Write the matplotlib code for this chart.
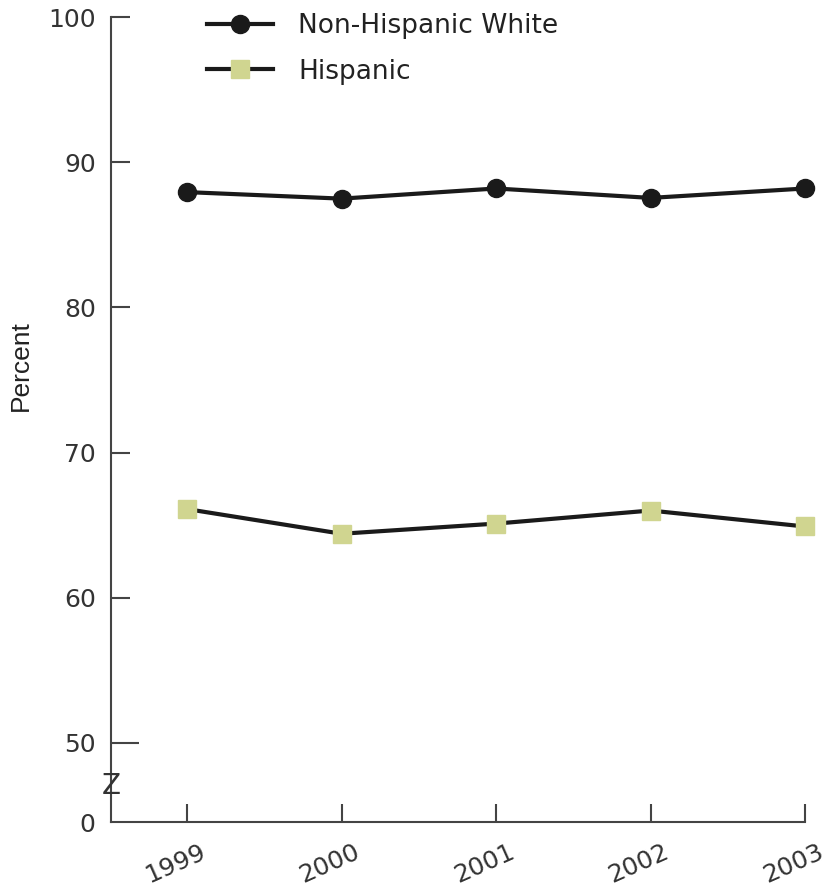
import matplotlib.pyplot as plt
import matplotlib.transforms as mtransforms

years = [1999, 2000, 2001, 2002, 2003]
white = [87.95, 87.5, 88.2, 87.55, 88.2]
hispanic = [66.1, 64.4, 65.1, 66.0, 64.9]
ytick_vals = [44.53, 50, 60, 70, 80, 90, 100]
ytick_labels = ["0", "50", "60", "70", "80", "90", "100"]

plt.rcParams['font.family'] = ['DejaVu Sans']

fig = plt.figure(figsize=(8.29, 8.92), dpi=100)
W, H = 829, 892
ax = fig.add_axes([111 / W, 1 - 822 / H, (805 - 111) / W, (822 - 17.3) / H])

ax.plot(years, white, color="#1a1a1a", lw=3, marker="o", ms=13,
        mfc="#1a1a1a", mec="#1a1a1a", label="Non-Hispanic White", clip_on=False)
ax.plot(years, hispanic, color="#1a1a1a", lw=3, marker="s", ms=13,
        mfc="#d0d590", mec="#d0d590", label="Hispanic", clip_on=False)

ax.set_xlim(1998.508, 2003)
ax.set_ylim(44.53, 100)
ax.set_xticks(years)
ax.set_xticklabels([str(y) for y in years], rotation=24, fontsize=18, color="#333333")
ax.set_yticks(ytick_vals)
ax.set_yticklabels(ytick_labels, fontsize=18, color="#333333")
ax.tick_params(axis="y", direction="in", length=14, width=1.5, color="#444444", pad=11)
ax.tick_params(axis="x", direction="in", length=13, width=1.5, color="#444444", pad=13)
yt = ax.yaxis.get_major_ticks()
yt[0].tick1line.set_visible(False)
yt[1].tick1line.set_markersize(20)

# shift year labels a little left, as in the original
for lab in ax.get_xticklabels():
    lab.set_transform(lab.get_transform() + mtransforms.ScaledTranslation(-12 / 100, 0, fig.dpi_scale_trans))

for s in ["top", "right"]:
    ax.spines[s].set_visible(False)
for s in ["left", "bottom"]:
    ax.spines[s].set_color("#444444")
    ax.spines[s].set_linewidth(1.5)

ax.set_ylabel("Percent", fontsize=19, color="#222222", family="Liberation Sans")
ax.yaxis.set_label_coords(33 / W - 111 / W, 0.5, transform=fig.transFigure)
ax.yaxis.label.set_position((33 / W, 1 - 366 / H))

# axis break mark
ax.text(1998.508, 47.0, "Z", fontsize=20, ha="center", va="center", color="#333333")

leg = ax.legend(loc="upper left", bbox_to_anchor=(207 / W, 1 - 13 / H), bbox_transform=fig.transFigure,
                frameon=False, fontsize=19, handlelength=2.5, labelspacing=0.74,
                handletextpad=0.95, borderaxespad=0, borderpad=0)
for t in leg.get_texts():
    t.set_color("#222222")

fig.savefig("out.png", dpi=100)
